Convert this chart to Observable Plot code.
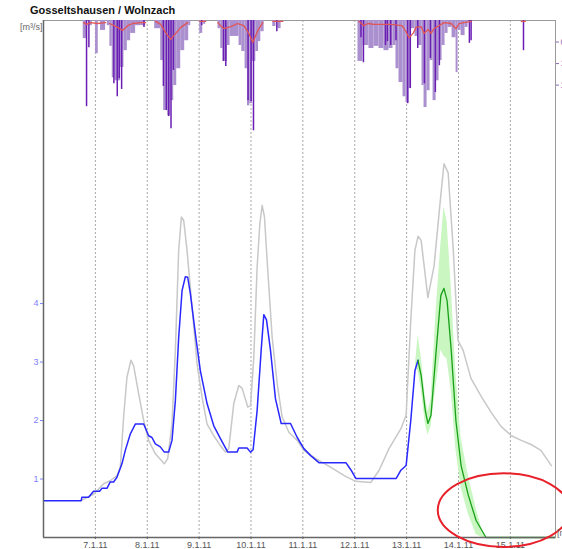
<!DOCTYPE html>
<html><head><meta charset="utf-8">
<script src="https://cdn.jsdelivr.net/npm/d3@7"></script>
<script src="https://cdn.jsdelivr.net/npm/@observablehq/plot@0.6"></script>
<style>
html,body{margin:0;padding:0;background:#fff;overflow:hidden;}
#wrap{position:relative;width:562px;height:549px;overflow:hidden;background:#fff;font-family:"Liberation Sans",Arial,sans-serif;}
#wrap svg{position:absolute;left:0;top:0;}
#title{position:absolute;left:30px;top:4px;font-weight:bold;font-size:11px;color:#111;z-index:5;}
#unit{position:absolute;left:20px;top:22px;font-size:9px;color:#666;z-index:5;}
#unit2{position:absolute;left:557px;top:528px;font-size:9px;color:#666;z-index:5;}
</style></head>
<body><div id="wrap"><div id="title">Gosseltshausen / Wolnzach</div><div id="unit">[m³/s]</div><div id="unit2">[mm]</div></div>
<script>
// ---- axis ticks (day of January 2011) ----
const dayTicks = [7, 8, 9, 10, 11, 12, 13, 14, 15];
const dayLabels = ["7.1.11","8.1.11","9.1.11","10.1.11","11.1.11","12.1.11","13.1.11","14.1.11","15.1.11"];
const qTicks = [1, 2, 3, 4];
const pTicks = [0.5, 1, 1.5];
const pTickLabels = ["0.5", "1.0", "1.5"];

// ---- observed discharge (blue) [day, m3/s] ----
const observed = [
[6.00,0.63],[6.727,0.63],[6.74,0.69],[6.869,0.69],[6.965,0.79],[7.081,0.79],[7.126,0.84],[7.223,0.84],
[7.287,0.95],[7.351,0.95],[7.416,1.03],[7.512,1.26],[7.577,1.49],[7.673,1.77],[7.770,1.94],[7.931,1.94],
[8.027,1.74],[8.091,1.71],[8.156,1.60],[8.252,1.55],[8.329,1.46],[8.413,1.46],[8.477,1.66],[8.542,2.34],
[8.606,3.42],[8.671,4.22],[8.735,4.46],[8.780,4.45],[8.831,4.17],[8.928,3.48],[9.024,2.85],[9.153,2.29],
[9.282,1.91],[9.411,1.69],[9.552,1.46],[9.732,1.46],[9.764,1.53],[9.925,1.53],[9.990,1.46],[10.041,1.50],
[10.118,2.17],[10.196,3.20],[10.247,3.81],[10.299,3.72],[10.376,3.20],[10.472,2.37],[10.582,1.95],[10.762,1.95],
[10.891,1.71],[11.019,1.52],[11.15,1.40],[11.31,1.28],[11.83,1.28],[11.93,1.15],[12.02,1.01],[12.80,1.01],
[12.89,1.15],[12.99,1.23],[13.08,2.0],[13.16,2.85],[13.22,3.03]
];

// ---- simulated discharge (grey) ----
const simulated = [
[6.74,0.64],[6.965,0.74],[7.158,0.92],[7.287,0.97],[7.416,1.06],[7.48,1.20],[7.545,2.06],[7.609,2.74],
[7.686,3.03],[7.737,2.94],[7.834,2.46],[7.931,2.0],[8.027,1.66],[8.156,1.43],[8.329,1.26],[8.394,1.35],
[8.477,1.94],[8.542,3.20],[8.606,4.91],[8.658,5.48],[8.703,5.42],[8.767,4.91],[8.864,3.94],[8.960,2.97],
[9.057,2.40],[9.153,1.94],[9.282,1.74],[9.411,1.57],[9.507,1.46],[9.571,1.52],[9.668,2.29],[9.764,2.60],
[9.829,2.55],[9.938,2.23],[9.990,2.25],[10.054,3.08],[10.118,4.62],[10.170,5.36],[10.215,5.68],[10.260,5.48],
[10.311,4.74],[10.408,3.42],[10.505,2.63],[10.601,2.06],[10.730,1.80],[10.891,1.66],[11.019,1.49],
[11.25,1.35],[11.54,1.20],[11.83,1.04],[12.02,0.96],[12.31,0.94],[12.47,1.15],[12.66,1.52],[12.89,1.86],
[12.99,2.09],[13.08,3.71],[13.16,4.91],[13.22,5.15],[13.28,5.08],[13.41,4.10],[13.53,4.65],[13.64,5.68],
[13.72,6.39],[13.80,6.24],[13.90,4.91],[13.99,3.37],[14.09,3.20],[14.24,2.72],[14.44,2.41],[14.63,2.14],
[14.82,1.90],[15.02,1.74],[15.21,1.66],[15.40,1.59],[15.59,1.49],[15.79,1.23]
];

// ---- forecast (green) ----
const forecast = [
[13.22,3.03],[13.28,2.77],[13.36,2.17],[13.41,1.95],[13.47,2.09],[13.57,3.20],[13.66,4.14],[13.72,4.26],
[13.78,4.05],[13.86,3.20],[13.95,2.0],[14.05,1.23],[14.19,0.72],[14.34,0.29],[14.53,0],[15.87,0]
];

// ---- forecast uncertainty band [day, low, high] ----
const band = [
[13.17,2.90,2.95],[13.22,2.85,3.45],[13.28,2.55,3.10],[13.36,1.95,2.40],[13.41,1.75,2.15],[13.47,1.90,2.35],
[13.57,2.60,3.90],[13.66,3.20,5.00],[13.72,3.10,5.65],[13.78,3.05,5.40],[13.86,2.50,4.30],[13.95,1.50,2.80],
[14.05,0.85,1.70],[14.19,0.40,1.05],[14.34,0.05,0.50],[14.45,0,0.15],[14.53,0,0],[15.87,0,0]
];

// ---- precipitation, light bars [start day, end day, value] ----
const precipBars = [
[6.766,6.844,0.42],[6.894,6.940,0.12],[7.004,7.056,0.77],[7.100,7.197,0.23],[7.230,7.280,0.12],
[7.280,7.326,0.60],[7.326,7.377,1.33],[7.377,7.435,1.40],[7.435,7.486,1.40],[7.486,7.551,1.09],[7.551,7.616,0.70],
[7.616,7.680,0.47],[7.680,7.776,0.30],[7.776,7.873,0.12],[7.873,7.969,0.12],
[8.143,8.259,0.19],[8.259,8.317,0.93],[8.317,8.394,2.09],[8.394,8.452,2.21],[8.452,8.510,1.86],[8.510,8.568,1.51],
[8.568,8.645,1.12],[8.645,8.722,0.70],[8.722,8.799,0.47],[8.799,8.838,0.12],
[9.012,9.069,0.30],[9.089,9.127,0.09],
[9.365,9.417,0.19],[9.417,9.462,0.65],[9.462,9.546,0.95],[9.546,9.597,0.58],[9.597,9.770,0.37],[9.770,9.822,0.58],
[9.822,9.886,0.72],[9.886,9.932,1.12],[9.932,9.977,1.98],[9.977,10.029,1.93],[10.029,10.093,0.95],[10.093,10.145,0.72],
[10.145,10.189,0.49],[10.189,10.253,0.26],
[10.42,10.48,0.14],[10.52,10.58,0.19],
[12.062,12.158,0.95],[12.158,12.274,0.58],[12.274,12.371,0.65],[12.371,12.467,0.60],[12.467,12.564,0.65],
[12.564,12.660,0.70],[12.660,12.737,0.65],[12.737,12.795,0.58],[12.795,12.853,1.12],[12.853,12.931,1.44],
[12.931,12.988,1.77],[12.988,13.046,1.91],[13.046,13.085,1.58],[13.085,13.162,0.19],[13.162,13.220,0.37],
[13.220,13.297,0.58],[13.297,13.336,1.51],[13.336,13.394,2.02],[13.394,13.452,1.63],[13.452,13.510,0.93],
[13.510,13.568,1.86],[13.568,13.625,1.40],[13.625,13.683,0.93],[13.683,13.741,0.58],[13.741,13.799,0.30],
[13.799,13.876,0.16],[13.876,13.954,0.40],[13.954,13.992,1.21],[13.992,14.050,0.23],[14.050,14.127,0.35],
[14.127,14.185,0.16]
];

// ---- precipitation, dark lines [day, value] ----
const precipLines = [
[6.830,2.0],[6.875,0.63],
[7.357,1.47],[7.422,1.77],[7.461,1.35],[7.506,1.60],[7.937,0.16],
[8.311,1.53],[8.369,2.09],[8.413,2.23],[8.458,2.51],[8.504,1.16],
[9.050,0.12],
[9.469,0.95],[9.514,1.07],[9.944,1.86],[10.002,1.88],[10.048,2.56],
[10.498,0.26],
[12.120,0.40],[12.168,0.98],[12.593,0.58],[12.631,0.49],[12.693,0.58],[12.795,0.47],[13.021,1.93],[13.071,1.58],
[13.214,0.65],[13.342,1.47],[13.458,0.88],[13.554,1.67],[13.631,1.05],[14.210,0.53],[14.243,0.47],
[15.253,0.70]
];

// ---- red trace in precipitation panel (NaN = gap) ----
const redTrace = [
[6.772,0.05],[6.830,0.09],[6.907,0.05],[7.042,0.07],[7.197,0.05],[7.24,NaN],
[7.274,0.07],[7.429,0.16],[7.525,0.23],[7.622,0.12],[7.718,0.07],[7.873,0.05],[7.969,0.05],[8.05,NaN],
[8.162,0.02],[8.259,0.09],[8.355,0.28],[8.452,0.44],[8.548,0.30],[8.645,0.16],[8.780,0.05],[8.9,NaN],
[9.012,0.02],[9.127,0.02],[9.2,NaN],
[9.359,0.05],[9.475,0.19],[9.610,0.14],[9.745,0.07],[9.861,0.12],[9.958,0.30],[10.035,0.51],[10.131,0.23],[10.228,0.05],[10.3,NaN],
[10.421,0.02],[10.614,0.02],[10.8,NaN],
[12.081,0.02],[12.178,0.12],[12.255,0.07],[12.371,0.09],[12.699,0.09],[12.911,0.12],[12.988,0.26],[13.046,0.40],
[13.124,0.30],[13.181,0.16],[13.278,0.14],[13.336,0.30],[13.413,0.21],[13.471,0.30],[13.529,0.19],[13.625,0.12],
[13.722,0.05],[13.857,0.07],[13.954,0.19],[14.012,0.07],[14.108,0.05],[14.243,0.02],[14.4,NaN],
[15.21,0.02],[15.29,0.02]
];

// ---- annotation ellipse (data units: center day, center m3/s, radius days, radius m3/s) ----
const ellipseNote = {day: 14.88, q: 0.46, rDay: 1.27, rQ: 0.63};

const FONT = "Liberation Sans, Arial, sans-serif";
const common = {
  width: 562, height: 549,
  marginTop: 20, marginBottom: 12, marginLeft: 43, marginRight: 7
};

const main = Plot.plot({
  ...common,
  style: {background: "transparent", fontFamily: FONT, fontSize: "9px", overflow: "hidden"},
  x: {domain: [6, 15.87]},
  y: {domain: [0, 8.84]},
  marks: [
    Plot.ruleX(dayTicks, {stroke: "#a8a8a8", strokeDasharray: "2,2"}),
    Plot.areaY(band, {x: d => d[0], y1: d => d[1], y2: d => d[2], fill: "#c9f6c1", curve: "linear"}),
    Plot.line(simulated, {x: d => d[0], y: d => d[1], stroke: "#c8c8c8", strokeWidth: 1.5}),
    Plot.line(observed, {x: d => d[0], y: d => d[1], stroke: "#2828ff", strokeWidth: 1.5}),
    Plot.line(forecast, {x: d => d[0], y: d => d[1], stroke: "#18a018", strokeWidth: 1.3}),
    Plot.frame({stroke: "#9a9a9a"}),
    Plot.axisX({ticks: dayTicks, tickFormat: d => dayLabels[dayTicks.indexOf(d)], tickSize: 2, tickPadding: 2, color: "#555", label: null}),
    Plot.axisY({ticks: qTicks, tickFormat: d => String(d), tickSize: 3, tickPadding: 2, color: "#8080ff", label: null}),
    Plot.ruleX([6], {stroke: "#666", strokeWidth: 1.5}),
    Plot.ruleY([0], {stroke: "#666", strokeWidth: 1.5})
  ]
});

const rain = Plot.plot({
  ...common,
  style: {background: "transparent", fontFamily: FONT, fontSize: "9px", overflow: "hidden"},
  x: {domain: [6, 15.87], axis: null},
  y: {domain: [0, 12], reverse: true, axis: null},
  marks: [
    Plot.rect(precipBars, {x1: d => d[0], x2: d => d[1], y1: 0, y2: d => d[2], fill: "#ab90cf"}),
    Plot.ruleX(precipLines, {x: d => d[0], y1: 0, y2: d => d[1], stroke: "#6a1eb4", strokeWidth: 1.5}),
    Plot.line(redTrace, {x: d => d[0], y: d => d[1], stroke: "#e05555", strokeWidth: 1.3}),
    Plot.axisY({anchor: "right", ticks: pTicks, tickFormat: d => pTickLabels[pTicks.indexOf(d)], tickSize: 3, tickPadding: 2, color: "#8a6ab8", label: null})
  ]
});

const wrap = document.getElementById("wrap");
wrap.insertBefore(main, wrap.firstChild);
wrap.insertBefore(rain, main.nextSibling);

// red annotation ellipse drawn through the plot's scales
const xs = main.scale("x"), ys = main.scale("y");
const cx = xs.apply(ellipseNote.day), cy = ys.apply(ellipseNote.q);
const rx = xs.apply(ellipseNote.day + ellipseNote.rDay) - cx;
const ry = cy - ys.apply(ellipseNote.q + ellipseNote.rQ);
d3.select(rain).append("ellipse")
  .attr("cx", cx).attr("cy", cy).attr("rx", rx).attr("ry", ry)
  .attr("fill", "none").attr("stroke", "#e8202a").attr("stroke-width", 2);
</script>
</body></html>
